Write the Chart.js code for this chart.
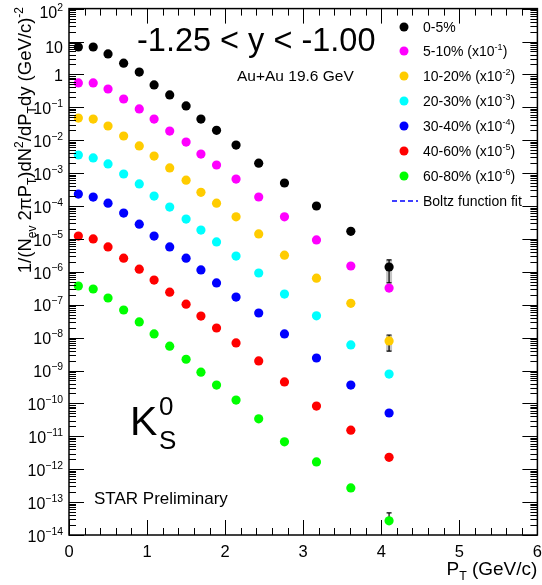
<!DOCTYPE html>
<html>
<head>
<meta charset="utf-8">
<script src="https://cdn.jsdelivr.net/npm/chart.js@4.4.1/dist/chart.umd.min.js"></script>
<style>
  body { margin: 0; background: #fff; }
  #wrap { width: 542px; height: 585px; }
</style>
</head>
<body>
<div id="wrap"><canvas id="chart" width="542" height="585"></canvas></div>
<script>
// pT bin centres (GeV/c)
const pt = [0.12, 0.31, 0.5, 0.7, 0.9, 1.09, 1.29, 1.5, 1.69, 1.89, 2.14, 2.43, 2.76, 3.17, 3.61, 4.1];

// spectra per centrality (already scaled as in the legend)
const c0_5   = [6.8, 6.8, 4.2, 2.2, 1.18, 0.48, 0.237, 0.11, 0.044, 0.020, 0.0071, 0.0020, 5.0e-4, 1.0e-4, 1.7e-5, 1.4e-6];
const c5_10  = [0.55, 0.55, 0.36, 0.179, 0.089, 0.044, 0.019, 0.0088, 0.0038, 0.00176, 6.6e-4, 1.88e-4, 4.7e-5, 9.3e-6, 1.5e-6, 3.2e-7];
const c10_20 = [0.047, 0.044, 0.027, 0.0134, 0.0067, 0.0033, 0.00144, 6.1e-4, 2.6e-4, 1.22e-4, 4.7e-5, 1.42e-5, 3.2e-6, 6.4e-7, 1.1e-7, 7.9e-9];
const c20_30 = [3.55e-3, 2.9e-3, 1.9e-3, 9.4e-4, 4.7e-4, 2.0e-4, 9.3e-5, 4.0e-5, 1.86e-5, 8.1e-6, 3.0e-6, 9.2e-7, 2.1e-7, 4.6e-8, 6.0e-9, 7.8e-10];
const c30_40 = [2.3e-4, 1.87e-4, 1.22e-4, 6.1e-5, 2.8e-5, 1.22e-5, 5.7e-6, 2.6e-6, 1.14e-6, 4.6e-7, 1.71e-7, 5.6e-8, 1.29e-8, 2.4e-9, 3.6e-10, 5.1e-11];
const c40_60 = [1.22e-5, 1.0e-5, 5.7e-6, 2.6e-6, 1.2e-6, 5.6e-7, 2.4e-7, 1.04e-7, 4.5e-8, 1.96e-8, 6.9e-9, 1.96e-9, 4.5e-10, 8.3e-11, 1.54e-11, 2.3e-12];
const c60_80 = [3.7e-7, 3.0e-7, 1.6e-7, 6.9e-8, 3.0e-8, 1.29e-8, 5.5e-9, 2.2e-9, 8.9e-10, 3.6e-10, 1.26e-10, 3.4e-11, 6.8e-12, 1.66e-12, 2.7e-13, 2.7e-14];

const seriesNames = ['0-5%', '5-10%', '10-20%', '20-30%', '30-40%', '40-60%', '60-80%'];
const seriesScale = ['', '-1', '-2', '-3', '-4', '-5', '-6'];
const seriesColors = ['#000000', '#ff00ff', '#ffcc00', '#00ffff', '#0000ff', '#ff0000', '#00ff00'];
const seriesData = [c0_5, c5_10, c10_20, c20_30, c30_40, c40_60, c60_80];

// error bars on the last point (series index, low, high)
const errSeries = [0, 2, 6];
const errLow  = [4.6e-7, 3.9e-9, null];
const errHigh = [2.3e-6, 1.2e-8, 4.7e-14];

// axis ticks
const xMajor = [0, 1, 2, 3, 4, 5, 6];
const yDecades = [-14, -13, -12, -11, -10, -9, -8, -7, -6, -5, -4, -3, -2, -1, 0, 1, 2];

const FONT = '"Liberation Sans", Arial, Helvetica, sans-serif';

function font(size) { return size + 'px ' + FONT; }

// text with superscript / subscript pieces: [[text, mode]] mode: 0 normal, 1 sup, -1 sub
function drawRich(ctx, parts, x, y, size) {
    let cx = x;
    for (const [txt, mode] of parts) {
        const s = mode === 0 ? size : size * 0.65;
        ctx.font = font(s);
        const dy = mode === 1 ? -size * 0.45 : (mode === -1 ? size * 0.28 : 0);
        ctx.fillText(txt, cx, y + dy);
        cx += ctx.measureText(txt).width;
    }
    return cx - x;
}

function richWidth(ctx, parts, size) {
    let w = 0;
    for (const [txt, mode] of parts) {
        ctx.font = font(mode === 0 ? size : size * 0.65);
        w += ctx.measureText(txt).width;
    }
    return w;
}

// Axes, ticks, labels and annotations drawn the ROOT way
const rootFrame = {
    id: 'rootFrame',
    beforeDatasetsDraw(chart) {
        const ctx = chart.ctx;
        const xs = chart.scales.x, ys = chart.scales.y;
        ctx.save();
        // systematic boxes
        ctx.fillStyle = 'rgba(160,160,160,0.6)';
        errSeries.forEach((s, i) => {
            if (errLow[i] == null) return;
            const n = seriesData[s].length - 1;
            const px = xs.getPixelForValue(pt[n]);
            const y1 = ys.getPixelForValue(errHigh[i]);
            const y2 = ys.getPixelForValue(errLow[i]);
            ctx.fillRect(px - 3, y1, 6, y2 - y1);
        });
        // statistical error bars
        ctx.strokeStyle = '#000';
        ctx.lineWidth = 1.2;
        errSeries.forEach((s, i) => {
            const n = seriesData[s].length - 1;
            const px = xs.getPixelForValue(pt[n]);
            const yh = ys.getPixelForValue(errHigh[i]);
            const yl = ys.getPixelForValue(errLow[i] != null ? errLow[i] : seriesData[s][n]);
            ctx.beginPath();
            ctx.moveTo(px, yh); ctx.lineTo(px, yl);
            ctx.moveTo(px - 2.5, yh); ctx.lineTo(px + 2.5, yh);
            if (errLow[i] != null) { ctx.moveTo(px - 2.5, yl); ctx.lineTo(px + 2.5, yl); }
            ctx.stroke();
        });
        ctx.restore();
    },
    afterDraw(chart) {
        const ctx = chart.ctx;
        const a = chart.chartArea;
        const xs = chart.scales.x, ys = chart.scales.y;
        ctx.save();
        ctx.strokeStyle = '#000';
        ctx.fillStyle = '#000';

        // frame
        ctx.lineWidth = 1.5;
        ctx.strokeRect(a.left, a.top, a.right - a.left, a.bottom - a.top);

        // x ticks (bottom and top, inward)
        ctx.lineWidth = 1;
        ctx.beginPath();
        for (let i = 0; i <= 30; i++) {
            const v = i * 0.2;
            const px = Math.round(xs.getPixelForValue(v)) + 0.5;
            const len = i % 5 === 0 ? 15 : 7;
            ctx.moveTo(px, a.bottom); ctx.lineTo(px, a.bottom - len);
            ctx.moveTo(px, a.top); ctx.lineTo(px, a.top + len);
        }
        // y ticks (left and right, inward)
        for (const d of yDecades) {
            for (let m = 1; m <= 9; m++) {
                const v = m * Math.pow(10, d);
                if (v > 100 * 1.0001) continue;
                const py = Math.round(ys.getPixelForValue(v)) + 0.5;
                const len = m === 1 ? 15 : 7;
                ctx.moveTo(a.left, py); ctx.lineTo(a.left + len, py);
                ctx.moveTo(a.right, py); ctx.lineTo(a.right - len, py);
            }
        }
        ctx.stroke();

        // x labels
        ctx.font = font(16.5);
        ctx.textAlign = 'center';
        ctx.textBaseline = 'alphabetic';
        for (const v of xMajor) {
            ctx.fillText(String(v), xs.getPixelForValue(v), 557);
        }

        // y labels, right aligned
        ctx.textAlign = 'left';
        for (const d of yDecades) {
            const py = ys.getPixelForValue(Math.pow(10, d));
            let parts, shift = 0;
            if (d === 0) parts = [['1', 0]];
            else if (d === 1) { parts = [['10', 0]]; shift = 5; }
            else {
                parts = [['10', 0], [String(d).replace('-', '\u2212'), 1]];
                if (d === 2) shift = 3;
            }
            const w = richWidth(ctx, parts, 16);
            drawRich(ctx, parts, 63 - w, py + 6.7 + shift, 16);
        }

        // x title
        const xt = [['P', 0], ['T', -1], [' (GeV/c)', 0]];
        const xw = richWidth(ctx, xt, 19);
        drawRich(ctx, xt, a.right - xw, 575, 19);

        // y title (rotated)
        const yt = [['1/(N', 0], ['ev', -1], [' 2\u03c0P', 0], ['T', -1], [')dN', 0], ['2', 1],
                    ['/dP', 0], ['T', -1], ['dy (GeV/c)', 0], ['-2', 1]];
        const yw = richWidth(ctx, yt, 18.5);
        ctx.save();
        ctx.translate(31, 7 + yw);
        ctx.rotate(-Math.PI / 2);
        drawRich(ctx, yt, 0, 0, 18.5);
        ctx.restore();

        // rapidity window
        ctx.font = font(32.5);
        ctx.fillText('-1.25 < y < -1.00', 137, 51);

        // system
        ctx.font = font(15.5);
        ctx.fillText('Au+Au 19.6 GeV', 237, 81);

        // particle
        ctx.font = font(41);
        ctx.fillText('K', 130, 435);
        ctx.font = font(26);
        ctx.fillText('0', 159, 415);
        ctx.fillText('S', 159, 449);

        // preliminary tag
        ctx.font = font(17);
        ctx.fillText('STAR Preliminary', 94, 504);

        // legend
        const legY = [27, 51, 76, 101, 126, 151, 176];
        seriesNames.forEach((name, i) => {
            ctx.fillStyle = seriesColors[i];
            ctx.beginPath();
            ctx.arc(404, legY[i], 4.5, 0, Math.PI * 2);
            ctx.fill();
            ctx.fillStyle = '#000';
            const parts = seriesScale[i] ? [[name + ' (x10', 0], [seriesScale[i], 1], [')', 0]] : [[name, 0]];
            drawRich(ctx, parts, 423, legY[i] + 5, 14);
        });
        ctx.strokeStyle = '#0000ff';
        ctx.lineWidth = 1.5;
        ctx.setLineDash([5, 3]);
        ctx.beginPath();
        ctx.moveTo(392, 201); ctx.lineTo(418, 201);
        ctx.stroke();
        ctx.setLineDash([]);
        ctx.font = font(14);
        ctx.fillText('Boltz function fit', 423, 206);

        ctx.restore();
    }
};

const datasets = seriesData.map((vals, i) => ({
    label: seriesNames[i],
    data: vals.map((v, j) => ({ x: pt[j], y: v })),
    backgroundColor: seriesColors[i],
    borderWidth: 0,
    pointRadius: 4.6,
    showLine: false
}));

new Chart(document.getElementById('chart').getContext('2d'), {
    type: 'scatter',
    data: { datasets: datasets },
    options: {
        responsive: false,
        animation: false,
        layout: { padding: { left: 69, right: 4, top: 8.6, bottom: 50 } },
        plugins: { legend: { display: false }, tooltip: { enabled: false } },
        scales: {
            x: { type: 'linear', min: 0, max: 6, display: false },
            y: { type: 'logarithmic', min: 1e-14, max: 100, display: false }
        }
    },
    plugins: [rootFrame]
});
</script>
</body>
</html>
